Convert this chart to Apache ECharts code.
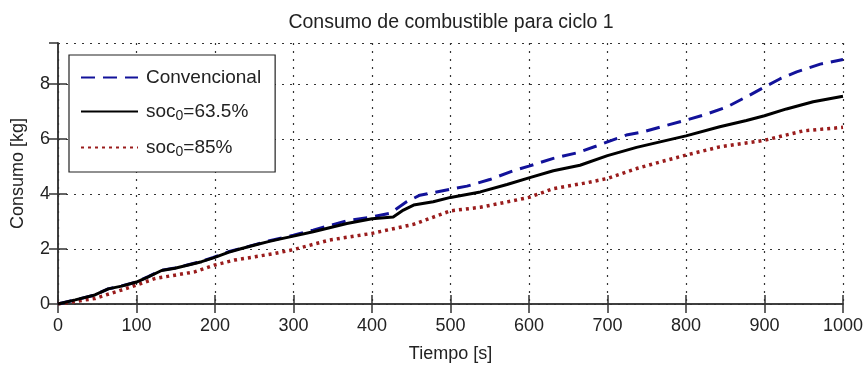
<!DOCTYPE html>
<html>
<head>
<meta charset="utf-8">
<script src="https://cdn.jsdelivr.net/npm/echarts@6/dist/echarts.min.js"></script>
<style>
html,body{margin:0;padding:0;background:#fff;}
#chart{width:864px;height:365px;}
</style>
</head>
<body>
<div id="chart"></div>
<script>
// ---- data ----
const chartTitle = 'Consumo de combustible para ciclo 1';
const xName = 'Tiempo [s]';
const yName = 'Consumo [kg]';
const seriesNames = ['Convencional', 'soc0=63.5%', 'soc0=85%'];

const convT = [0,22,47,64,81,100,115,132,149,166,183,198,217,234,251,268,285,300,325,368,400,423,444,461,495,521,550,580,600,631,661,686,700,724,746,771,800,826,852,881,900,920,941,971,1000];
const convV = [0,0.15,0.33,0.55,0.66,0.80,1.00,1.23,1.31,1.43,1.55,1.70,1.90,2.03,2.16,2.29,2.40,2.50,2.69,3.03,3.17,3.30,3.72,3.96,4.15,4.29,4.53,4.85,5.02,5.30,5.50,5.75,5.90,6.15,6.27,6.47,6.69,6.91,7.17,7.60,7.90,8.20,8.45,8.73,8.90];

const soc635T = [0,22,47,64,81,100,115,132,149,166,183,198,217,234,251,268,285,300,325,368,400,427,440,453,478,500,538,572,601,631,665,700,737,767,800,843,877,900,928,962,1000];
const soc635V = [0,0.15,0.33,0.55,0.65,0.80,0.99,1.22,1.30,1.42,1.54,1.68,1.88,2.02,2.15,2.27,2.38,2.47,2.63,2.93,3.10,3.17,3.42,3.60,3.72,3.88,4.08,4.35,4.60,4.85,5.05,5.40,5.70,5.90,6.12,6.45,6.68,6.85,7.10,7.36,7.56];

const soc85T = [0,47,81,100,124,149,174,200,225,251,276,300,346,400,453,500,538,580,600,631,673,700,737,767,800,843,900,949,1000];
const soc85V = [0,0.20,0.51,0.69,0.93,1.05,1.17,1.42,1.60,1.72,1.84,1.98,2.33,2.57,2.90,3.39,3.52,3.76,3.88,4.20,4.41,4.57,4.93,5.17,5.42,5.72,5.96,6.30,6.43];

const xMin = 0, xMax = 1000, xStep = 100;
const yMin = 0, yMax = 9.5, yStep = 2;

function pairs(t, v) { return t.map((x, i) => [x, v[i]]); }

const chart = echarts.init(document.getElementById('chart'), null, {renderer: 'canvas'});
const FONT = '"Liberation Sans", Arial, sans-serif';
const TXT = '#222';
const gridLine = {show: true, lineStyle: {color: '#333', width: 1.2, type: [2, 6]}};
const axLine = {show: true, lineStyle: {color: '#333', width: 1.5}};
const tick = {show: true, inside: true, length: 9, lineStyle: {color: '#333', width: 1.5}};

const option = {
  backgroundColor: '#fff',
  animation: false,
  title: {
    text: chartTitle, left: 446, top: 8, textAlign: 'center',
    textStyle: {fontFamily: FONT, fontSize: 19.5, fontWeight: 'normal', color: TXT}
  },
  grid: {left: 58, top: 43, right: 21, bottom: 61, containLabel: false, outerBoundsMode: 'none'},
  legend: {
    orient: 'vertical', left: 69, top: 55,
    data: seriesNames,
    padding: [13, 14, 13, 11],
    itemWidth: 57, itemHeight: 20, itemGap: 15,
    itemStyle: {opacity: 0},
    backgroundColor: '#fff', borderColor: '#222', borderWidth: 1.2,
    formatter: function (n) {
      if (n.indexOf('soc0') === 0) return 'soc{sub|0}' + n.slice(4);
      return n;
    },
    textStyle: {
      fontFamily: FONT, fontSize: 19, color: TXT, padding: [0,0,0,3],
      rich: {sub: {fontFamily: FONT, fontSize: 14, color: TXT, padding: [9, 0, 0, 0]}}
    }
  },
  xAxis: [{
    type: 'value', min: xMin, max: xMax, interval: xStep, position: 'bottom',
    name: xName, nameLocation: 'middle', nameGap: 41,
    nameTextStyle: {fontFamily: FONT, fontSize: 18, color: TXT},
    axisLine: axLine, axisTick: tick, splitLine: gridLine,
    axisLabel: {fontFamily: FONT, fontSize: 18, color: TXT, margin: 13, formatter: v => String(v)}
  }, {
    type: 'value', min: xMin, max: xMax, interval: xStep, position: 'top',
    axisLine: axLine, axisTick: tick, splitLine: {show: false}, axisLabel: {show: false}
  }],
  yAxis: [{
    type: 'value', min: yMin, max: yMax, interval: yStep, position: 'left',
    name: yName, nameLocation: 'middle', nameGap: 31,
    nameTextStyle: {fontFamily: FONT, fontSize: 18, color: TXT},
    axisLine: axLine, axisTick: tick, splitLine: gridLine,
    axisLabel: {fontFamily: FONT, fontSize: 18, color: TXT, margin: 8, showMaxLabel: false}
  }, {
    type: 'value', min: yMin, max: yMax, interval: yStep, position: 'right',
    axisLine: axLine, axisTick: tick, splitLine: {show: false}, axisLabel: {show: false}
  }],
  series: [{
    name: seriesNames[0], type: 'line', data: pairs(convT, convV),
    showSymbol: false, symbol: 'none',
    lineStyle: {color: '#12129a', width: 3, type: [14, 8]},
    itemStyle: {color: '#12129a'}
  }, {
    name: seriesNames[2], type: 'line', data: pairs(soc85T, soc85V),
    showSymbol: false, symbol: 'none',
    lineStyle: {color: '#9a1c1c', width: 3.5, type: [3, 4]},
    itemStyle: {color: '#9a1c1c'}
  }, {
    name: seriesNames[1], type: 'line', data: pairs(soc635T, soc635V),
    showSymbol: false, symbol: 'none',
    lineStyle: {color: '#000', width: 3},
    itemStyle: {color: '#000'}
  }]
};
chart.setOption(option);
</script>
</body>
</html>
